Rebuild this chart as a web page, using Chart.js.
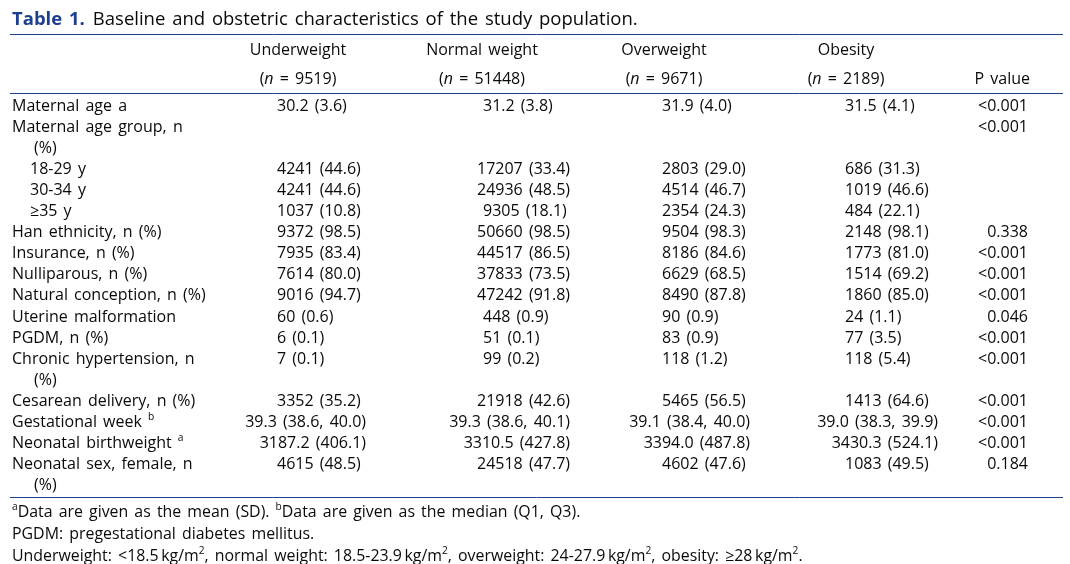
<!DOCTYPE html>
<html>
<head>
<meta charset="utf-8">
<script src="https://cdn.jsdelivr.net/npm/chart.js@4"></script>
<style>
  html, body { margin: 0; padding: 0; background: #fff; }
  #wrap { width: 1070px; height: 564px; }
</style>
</head>
<body>
<div id="wrap"><canvas id="myChart" width="1070" height="564"></canvas></div>
<script>
// table content
const groups = ['Underweight', 'Normal weight', 'Overweight', 'Obesity'];
const groupN = ['9519', '51448', '9671', '2189'];

const rowLabels = [
    'Maternal age a',
    'Maternal age group, n',
    '(%)',
    '18-29 y',
    '30-34 y',
    '≥35 y',
    'Han ethnicity, n (%)',
    'Insurance, n (%)',
    'Nulliparous, n (%)',
    'Natural conception, n (%)',
    'Uterine malformation',
    'PGDM, n (%)',
    'Chronic hypertension, n',
    '(%)',
    'Cesarean delivery, n (%)',
    'Gestational week ^b',
    'Neonatal birthweight ^a',
    'Neonatal sex, female, n',
    '(%)'
];
const subRows = [3, 4, 5]; // age group levels

const underweight = ['30.2 (3.6)', '', '', '4241 (44.6)', '4241 (44.6)', '1037 (10.8)', '9372 (98.5)', '7935 (83.4)', '7614 (80.0)', '9016 (94.7)', '60 (0.6)', '6 (0.1)', '7 (0.1)', '', '3352 (35.2)', '39.3 (38.6, 40.0)', '3187.2 (406.1)', '4615 (48.5)', ''];
const normalWeight = ['31.2 (3.8)', '', '', '17207 (33.4)', '24936 (48.5)', '9305 (18.1)', '50660 (98.5)', '44517 (86.5)', '37833 (73.5)', '47242 (91.8)', '448 (0.9)', '51 (0.1)', '99 (0.2)', '', '21918 (42.6)', '39.3 (38.6, 40.1)', '3310.5 (427.8)', '24518 (47.7)', ''];
const overweight = ['31.9 (4.0)', '', '', '2803 (29.0)', '4514 (46.7)', '2354 (24.3)', '9504 (98.3)', '8186 (84.6)', '6629 (68.5)', '8490 (87.8)', '90 (0.9)', '83 (0.9)', '118 (1.2)', '', '5465 (56.5)', '39.1 (38.4, 40.0)', '3394.0 (487.8)', '4602 (47.6)', ''];
const obesity = ['31.5 (4.1)', '', '', '686 (31.3)', '1019 (46.6)', '484 (22.1)', '2148 (98.1)', '1773 (81.0)', '1514 (69.2)', '1860 (85.0)', '24 (1.1)', '77 (3.5)', '118 (5.4)', '', '1413 (64.6)', '39.0 (38.3, 39.9)', '3430.3 (524.1)', '1083 (49.5)', ''];
const pValues = ['<0.001', '<0.001', '', '', '', '', '0.338', '<0.001', '<0.001', '<0.001', '0.046', '<0.001', '<0.001', '', '<0.001', '<0.001', '<0.001', '0.184', ''];

const titleLabel = 'Table 1.';
const titleText = 'Baseline and obstetric characteristics of the study population.';
const footnotes = [
    '^aData are given as the mean (SD). ^bData are given as the median (Q1, Q3).',
    'PGDM: pregestational diabetes mellitus.',
    'Underweight: <18.5\u2009kg/m^2, normal weight: 18.5-23.9\u2009kg/m^2, overweight: 24-27.9\u2009kg/m^2, obesity: ≥28\u2009kg/m^2.'
];

const valueCols = [underweight, normalWeight, overweight, obesity];

// layout (x in px of the x scale, y in row units of the y scale)
const FONT = '"Open Sans", "Noto Sans", sans-serif';
const colLeft = [277, 483, 662, 845];
const colRight = [366, 570, 750, 938];
const colHeadCenter = [298, 482, 664, 846];
const pRight = 1028;
const rowStep = 21.1, firstRowPx = 106;
const BLUE = '#1d3f8f';
const INK = '#0a0a0a';
const EXTRA_SPACE = 2; // wider word gaps, as in the typeset table

function parseRich(str) {
    const parts = str.split(/(\^\S|\*[^*]+\*)/).filter(s => s.length);
    return parts.map(p => {
        if (p[0] === '^' && p.length === 2) return { t: p[1], sup: true };
        if (p[0] === '*' && p.length > 2) return { t: p.slice(1, -1), it: true };
        return { t: p };
    });
}

function segFont(seg, size, weight) {
    const s = seg.sup ? size * 0.64 : size;
    return (seg.it ? 'italic ' : '') + (weight || 'normal') + ' ' + s + 'px ' + FONT;
}

function textW(ctx, t) {
    const spaces = (t.match(/ /g) || []).length;
    return ctx.measureText(t).width + spaces * EXTRA_SPACE;
}

function richWidth(ctx, str, size, weight) {
    let w = 0;
    for (const seg of parseRich(str)) {
        ctx.font = segFont(seg, size, weight);
        w += textW(ctx, seg.t);
    }
    return w;
}

function drawRich(ctx, str, x, y, size, align, color, weight) {
    const w = richWidth(ctx, str, size, weight);
    let cx = align === 'right' ? x - w : align === 'center' ? x - w / 2 : x;
    ctx.fillStyle = color || INK;
    ctx.textBaseline = 'middle';
    ctx.textAlign = 'left';
    for (const seg of parseRich(str)) {
        ctx.font = segFont(seg, size, weight);
        const yy = seg.sup ? y - size * 0.32 : y;
        const words = seg.t.split(' ');
        const sp = ctx.measureText(' ').width + EXTRA_SPACE;
        words.forEach((wd, i) => {
            if (i > 0) cx += sp;
            if (wd) ctx.fillText(wd, cx, yy);
            cx += ctx.measureText(wd).width;
        });
    }
    return cx;
}

const tablePlugin = {
    id: 'tableText',
    afterDraw(chart) {
        const ctx = chart.ctx;
        const xs = chart.scales.x, ys = chart.scales.y;
        const px = v => xs.getPixelForValue(v);
        const py = v => ys.getPixelForValue(v);
        const rowOf = p => (p - firstRowPx) / rowStep;
        ctx.save();

        // title
        const tEnd = drawRich(ctx, titleLabel, px(12), py(rowOf(20)), 18.5, 'left', BLUE, 'bold');
        drawRich(ctx, titleText, tEnd + 8, py(rowOf(20)), 18.5, 'left');

        // rules
        ctx.strokeStyle = BLUE;
        ctx.lineWidth = 1;
        [34, 93, 497].forEach(p => {
            const yy = Math.round(py(rowOf(p))) + 0.5;
            ctx.beginPath();
            ctx.moveTo(px(10), yy);
            ctx.lineTo(px(1063), yy);
            ctx.stroke();
        });

        // header
        groups.forEach((g, i) => {
            drawRich(ctx, g, px(colHeadCenter[i]), py(rowOf(50)), 16, 'center');
            drawRich(ctx, '(*n* = ' + groupN[i] + ')', px(colHeadCenter[i]), py(rowOf(79)), 16, 'center');
        });
        drawRich(ctx, 'P value', px(pRight + 2), py(rowOf(79)), 16, 'right');

        // body
        rowLabels.forEach((lab, r) => {
            const yy = py(r);
            const lx = lab === '(%)' ? 34 : subRows.includes(r) ? 30 : 12;
            drawRich(ctx, lab, px(lx), yy, 16, 'left');
            valueCols.forEach((col, c) => {
                const v = col[r];
                if (!v) return;
                const w = richWidth(ctx, v, 16);
                const x0 = Math.min(px(colLeft[c]), px(colRight[c]) - w);
                drawRich(ctx, v, x0, yy, 16, 'left');
            });
            if (pValues[r]) drawRich(ctx, pValues[r], px(pRight), yy, 16, 'right');
        });

        // footnotes
        [512, 534, 556].forEach((p, i) => {
            drawRich(ctx, footnotes[i], px(12), py(rowOf(p)), 15.9, 'left');
        });
        ctx.restore();
    }
};

const yMin = -firstRowPx / rowStep;
const yMax = yMin + 564 / rowStep;

const ctx = document.getElementById('myChart').getContext('2d');
const myChart = new Chart(ctx, {
    type: 'scatter',
    data: {
        datasets: [{
            data: rowLabels.map((l, i) => ({ x: 12, y: i })),
            pointRadius: 0,
            showLine: false
        }]
    },
    options: {
        responsive: false,
        animation: false,
        layout: { padding: 0 },
        plugins: { legend: { display: false }, tooltip: { enabled: false } },
        scales: {
            x: { type: 'linear', min: 0, max: 1070, display: false },
            y: { type: 'linear', min: yMin, max: yMax, reverse: true, display: false }
        }
    },
    plugins: [tablePlugin]
});
</script>
</body>
</html>
